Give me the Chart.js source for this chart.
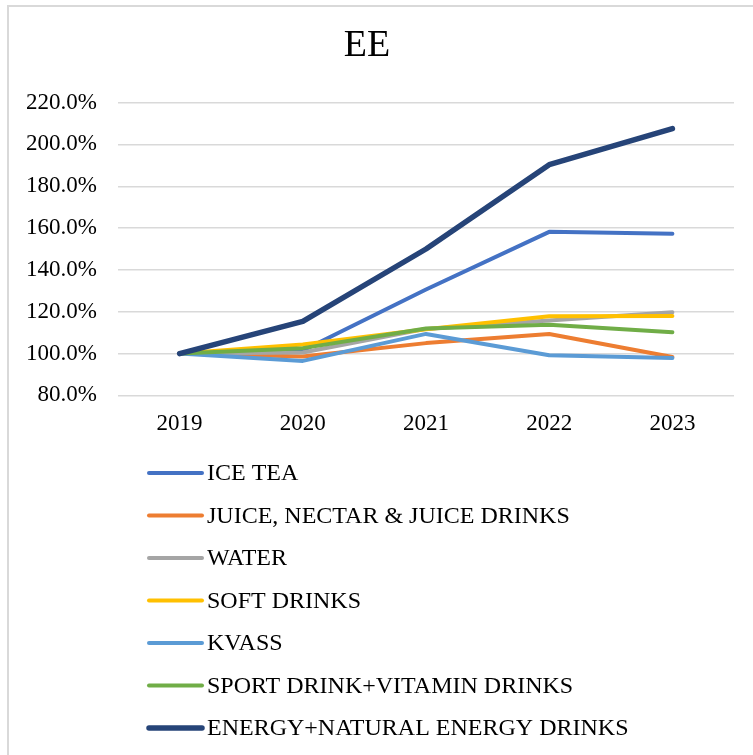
<!DOCTYPE html>
<html>
<head>
<meta charset="utf-8">
<script src="https://cdn.jsdelivr.net/npm/chart.js@4"></script>
<style>
  html, body { margin: 0; padding: 0; background: #fff; overflow: hidden; }
  #frame { position: absolute; left: 7px; top: 5px; width: 800px; height: 800px; border: 2px solid #d9d9d9; box-sizing: border-box; }
  #wrap { position: absolute; left: 0; top: 0; width: 753px; height: 755px; }
</style>
</head>
<body>
<div id="frame"></div>
<div id="wrap"><canvas id="chart_canvas" width="753" height="755"></canvas></div>
<script>
const years = ['2019', '2020', '2021', '2022', '2023'];

const iceTea = [100, 101.5, 130.6, 158.2, 157.3];
const juice = [100, 98.6, 105.0, 109.4, 98.4];
const water = [100, 100.5, 111.8, 115.8, 119.7];
const softDrinks = [100, 104.3, 111.6, 117.8, 118.0];
const kvass = [100, 96.5, 109.4, 99.2, 97.9];
const sportDrinks = [100, 102.6, 112.0, 113.8, 110.2];
const energyDrinks = [100, 115.4, 150.0, 190.3, 207.6];

const seriesNames = ['ICE TEA', 'JUICE, NECTAR & JUICE DRINKS', 'WATER', 'SOFT DRINKS', 'KVASS', 'SPORT DRINK+VITAMIN DRINKS', 'ENERGY+NATURAL ENERGY DRINKS'];
const seriesValues = [iceTea, juice, water, softDrinks, kvass, sportDrinks, energyDrinks];
const colors = ['#4472C4', '#ED7D31', '#A5A5A5', '#FFC000', '#5B9BD5', '#70AD47', '#264478'];

const serif = "'Liberation Serif', 'Times New Roman', serif";

const datasets = seriesNames.map((name, i) => ({
    label: name,
    data: seriesValues[i],
    borderColor: colors[i],
    backgroundColor: colors[i],
    borderWidth: i === 6 ? 5.5 : 4,
    pointRadius: 0,
    tension: 0,
    borderCapStyle: 'round',
    borderJoinStyle: 'round',
    order: seriesNames.length - i   // last series on top, like Excel
}));

// legend one item per row, drawn under the axis
const listLegend = {
    id: 'listLegend',
    afterDraw(chart) {
        const c = chart.ctx;
        c.save();
        c.font = '24px ' + serif;
        c.textBaseline = 'middle';
        chart.data.datasets.forEach((ds, i) => {
            const y = 473 + i * 42.5;
            c.strokeStyle = ds.borderColor;
            c.lineWidth = i === 6 ? 5.5 : 4;
            c.lineCap = 'round';
            c.beginPath();
            c.moveTo(149, y);
            c.lineTo(202, y);
            c.stroke();
            c.fillStyle = '#000';
            c.fillText(ds.label, 207, y + 1);
        });
        c.restore();
    }
};

const ctx = document.getElementById('chart_canvas');

new Chart(ctx, {
    type: 'line',
    data: { labels: years, datasets: datasets },
    plugins: [listLegend],
    options: {
        responsive: false,
        animation: false,
        layout: { padding: { left: 0, right: 19, top: 0, bottom: 310 } },
        plugins: {
            legend: { display: false },
            tooltip: { enabled: false },
            title: {
                display: true,
                text: 'EE',
                color: '#000',
                font: { family: serif, size: 38, weight: 'normal' },
                padding: { top: 23, bottom: 34 }
            }
        },
        scales: {
            x: {
                offset: true,
                grid: { display: false },
                border: { display: false },
                ticks: { color: '#000', font: { family: serif, size: 23 }, padding: 7 }
            },
            y: {
                min: 80,
                max: 220,
                afterFit(scale) { scale.width = 118; },
                grid: { color: '#d9d9d9', lineWidth: 1.5, drawTicks: false },
                border: { display: false },
                ticks: {
                    stepSize: 20,
                    padding: 21,
                    color: '#000',
                    font: { family: serif, size: 23 },
                    callback: v => v.toFixed(1) + '%'
                }
            }
        }
    }
});
</script>
</body>
</html>
